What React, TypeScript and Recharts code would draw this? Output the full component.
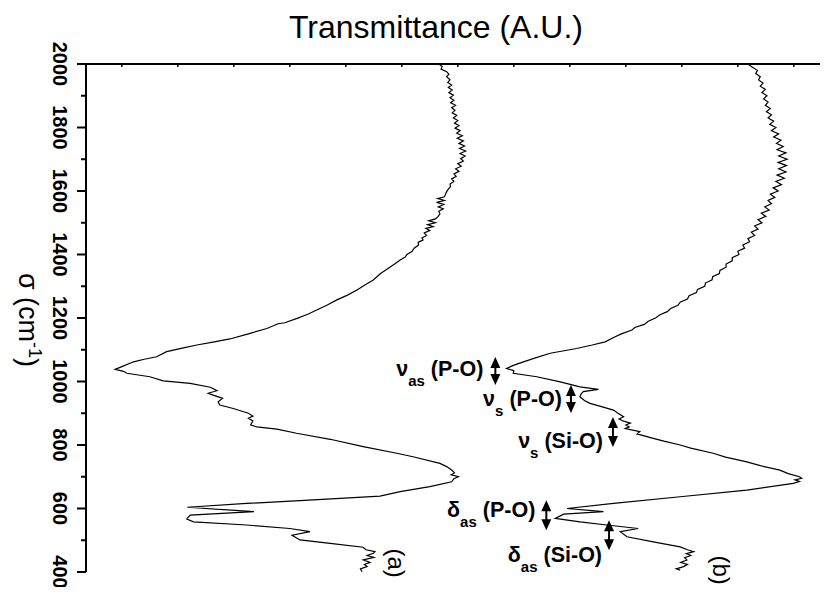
import { LineChart, Line, XAxis, YAxis, ReferenceDot, Label } from 'recharts'

const FONT = "'Liberation Sans', Arial, sans-serif"

// wavenumber ticks (cm-1); only multiples of 200 get a label
const SIGMA_TICKS = [400, 500, 600, 700, 800, 900, 1000, 1100, 1200, 1300, 1400, 1500, 1600, 1700, 1800, 1900, 2000]
const T_TICKS = [10, 20, 30, 40, 50, 60, 70, 80, 90, 100, 110, 120, 130]
const T_DOMAIN: [number, number] = [3.6, 136.1]

// [sigma (cm-1), transmittance (A.U.)]
const CURVE_A: [number, number][] = [
  [2000, 66.6], [1992, 67.2], [1984, 67.0], [1976, 68.0], [1968, 68.4], [1960, 68.0], [1950, 68.6], [1942, 68.2],
  [1934, 68.9], [1926, 68.3], [1918, 69.0], [1910, 68.4], [1902, 69.2], [1894, 68.6], [1886, 69.3], [1878, 68.7],
  [1870, 69.6], [1862, 68.9], [1854, 69.5], [1846, 69.0], [1838, 69.8], [1830, 69.2], [1822, 70.0], [1814, 69.4],
  [1806, 70.2], [1798, 69.5], [1790, 70.4], [1782, 69.8], [1774, 70.8], [1766, 69.9], [1758, 71.0], [1750, 70.2],
  [1742, 71.2], [1734, 70.3], [1726, 71.4], [1718, 70.4], [1710, 71.3], [1702, 70.5], [1694, 71.0], [1686, 70.0],
  [1678, 70.6], [1670, 69.6], [1662, 70.2], [1654, 69.3], [1646, 69.7], [1638, 68.9], [1630, 69.3], [1622, 68.6],
  [1614, 68.7], [1606, 68.3], [1598, 68.0], [1590, 67.8], [1582, 67.6], [1576, 66.4], [1570, 67.6], [1564, 66.2],
  [1558, 67.5], [1550, 66.5], [1544, 67.4], [1536, 66.6], [1528, 66.8], [1520, 66.5], [1512, 66.0], [1506, 64.8],
  [1500, 66.0], [1494, 64.6], [1488, 65.6], [1482, 64.3], [1476, 65.0], [1468, 64.0], [1460, 64.4], [1452, 63.6],
  [1446, 63.8], [1438, 62.9], [1430, 63.0], [1420, 62.2], [1409, 61.8], [1400, 60.9], [1392, 60.6], [1383, 59.7],
  [1370, 58.7], [1357, 57.6], [1340, 56.2], [1320, 54.9], [1304, 53.4], [1288, 52.0], [1272, 50.3], [1257, 48.4],
  [1240, 46.6], [1225, 44.8], [1212, 43.2], [1199, 41.3], [1185, 39.1], [1182, 37.9], [1167, 35.9], [1150, 32.6],
  [1134, 29.3], [1125, 26.5], [1115, 23.4], [1105, 20.8], [1094, 18.0], [1078, 16.2], [1070, 14.0], [1062, 12.1],
  [1047, 10.0], [1038, 8.8], [1032, 10.3], [1026, 10.9], [1015, 15.0], [1002, 17.4], [994, 22.2], [982, 25.8],
  [971, 27.0], [963, 25.4], [957, 26.3], [947, 28.0], [936, 27.2], [926, 27.5], [915, 29.9], [900, 32.6],
  [891, 33.4], [884, 32.6], [876, 33.4], [863, 33.0], [857, 34.1], [850, 37.7], [837, 41.2], [818, 47.2],
  [795, 53.1], [774, 59.1], [763, 62.0], [742, 66.8], [732, 68.0], [721, 68.9], [712, 69.4], [706, 68.8],
  [700, 70.1], [694, 69.3], [684, 68.9], [669, 65.0], [653, 59.7], [639, 56.1], [627, 44.2], [616, 32.3],
  [604, 21.7], [590, 33.6], [579, 22.2], [567, 21.6], [558, 22.8], [548, 32.3], [537, 40.0], [527, 43.6],
  [516, 40.4], [501, 41.8], [490, 47.2], [478, 53.1], [470, 53.6], [464, 55.2], [459, 54.9], [452, 53.8],
  [446, 55.0], [438, 53.1], [430, 54.3], [424, 53.3], [417, 53.8], [410, 52.6], [401, 52.9],
]

const CURVE_B: [number, number][] = [
  [2000, 121.8], [1990, 122.6], [1980, 123.5], [1970, 123.2], [1960, 124.0], [1950, 123.7], [1940, 124.5], [1930, 124.0],
  [1920, 124.9], [1910, 124.3], [1900, 125.2], [1890, 124.6], [1880, 125.4], [1870, 124.9], [1860, 125.8], [1850, 125.1],
  [1840, 126.0], [1830, 125.4], [1820, 126.4], [1810, 125.7], [1800, 126.8], [1790, 126.0], [1780, 127.3], [1770, 126.4],
  [1760, 127.7], [1750, 126.9], [1740, 128.1], [1730, 127.0], [1720, 128.6], [1710, 127.3], [1700, 128.8], [1690, 127.2],
  [1680, 128.7], [1670, 127.3], [1660, 128.6], [1650, 127.0], [1640, 128.3], [1630, 126.8], [1620, 127.8], [1610, 126.3],
  [1600, 127.2], [1590, 125.8], [1580, 126.6], [1570, 125.4], [1560, 126.0], [1550, 124.8], [1540, 125.6], [1530, 124.2],
  [1520, 125.0], [1510, 123.6], [1500, 124.3], [1490, 123.0], [1480, 123.6], [1470, 122.4], [1460, 123.0], [1450, 121.8],
  [1440, 122.1], [1430, 120.9], [1420, 121.2], [1410, 120.0], [1400, 120.2], [1390, 119.0], [1380, 119.0], [1370, 117.9],
  [1360, 117.9], [1350, 116.8], [1340, 116.7], [1330, 115.5], [1320, 115.4], [1310, 114.2], [1300, 114.1], [1290, 112.8],
  [1280, 112.6], [1270, 111.3], [1260, 111.0], [1250, 109.7], [1240, 109.3], [1230, 108.0], [1220, 107.4], [1210, 106.1],
  [1200, 105.3], [1190, 104.0], [1180, 103.3], [1170, 101.6], [1162, 101.1], [1150, 99.2], [1140, 98.0], [1125, 96.3],
  [1115, 94.0], [1104, 91.2], [1089, 86.5], [1075, 84.0], [1062, 81.7], [1050, 79.8], [1041, 78.7], [1034, 80.0],
  [1026, 79.9], [1015, 84.1], [999, 88.3], [983, 91.8], [975, 95.1], [968, 92.4], [960, 92.0], [952, 91.8],
  [940, 92.6], [931, 93.6], [920, 95.8], [910, 97.8], [900, 98.6], [889, 99.6], [882, 98.8], [875, 99.6],
  [869, 100.8], [863, 100.0], [857, 100.6], [852, 99.9], [842, 102.5], [835, 102.0], [821, 104.9], [812, 106.8],
  [800, 109.7], [790, 111.6], [774, 115.6], [762, 117.8], [747, 121.6], [735, 124.0], [721, 127.5], [710, 129.0],
  [700, 131.0], [695, 131.4], [690, 130.2], [685, 131.0], [679, 129.9], [658, 121.6], [637, 109.7], [616, 97.8],
  [600, 89.5], [590, 96.0], [582, 88.9], [569, 87.4], [558, 91.8], [548, 96.6], [537, 102.2], [527, 99.0],
  [511, 100.2], [495, 104.9], [479, 109.7], [470, 111.0], [464, 112.1], [458, 110.8], [452, 111.6], [445, 110.5],
  [438, 110.9], [430, 109.8], [424, 111.0], [417, 110.3], [410, 109.0], [406, 109.7],
]

// band assignments: arrow centre at (t, sigma)
const BANDS = [
  { sym: 'ν', sub: 'as', group: '(P-O)', t: 76.7, sigma: 1033, half: 14, dx: -12, dy: 5 },
  { sym: 'ν', sub: 's', group: '(P-O)', t: 90.2, sigma: 945, half: 14, dx: -9, dy: 7 },
  { sym: 'ν', sub: 's', group: '(Si-O)', t: 97.7, sigma: 841, half: 15, dx: -10, dy: 16 },
  { sym: 'δ', sub: 'as', group: '(P-O)', t: 85.8, sigma: 579, half: 15, dx: -11, dy: 2 },
  { sym: 'δ', sub: 'as', group: '(Si-O)', t: 97.0, sigma: 516, half: 15, dx: -7, dy: 27 },
]

const SAMPLE_LABELS = [
  { text: '(a)', t: 57.6, sigma: 428 },
  { text: '(b)', t: 115.6, sigma: 406 },
]

const toRows = (pts: [number, number][]) => pts.map(([sigma, t]) => ({ sigma, t }))

function SigmaTick(props: any) {
  const { x, y, payload } = props
  const v = payload.value as number
  const major = v % 200 === 0
  const lx = x - 33
  return (
    <g>
      <line x1={x - (major ? 9 : 5)} x2={x} y1={y} y2={y} stroke="#000" strokeWidth={2} />
      {major && (
        <text x={lx} y={y} transform={`rotate(90, ${lx}, ${y})`} textAnchor="middle"
          fontSize={20} fontWeight="bold" fontFamily={FONT} fill="#000">{v}</text>
      )}
    </g>
  )
}

function TopTick(props: any) {
  const { x, y } = props
  return <line x1={x} x2={x} y1={y} y2={y + 3} stroke="#000" strokeWidth={1.5} />
}

function BandMark(props: any) {
  const { cx, cy, band } = props
  const h = band.half
  return (
    <g>
      <line x1={cx} x2={cx} y1={cy - h + 8} y2={cy + h - 8} stroke="#000" strokeWidth={2} />
      <path d={`M${cx},${cy - h} L${cx - 5},${cy - h + 11} L${cx + 5},${cy - h + 11} Z`} fill="#000" />
      <path d={`M${cx},${cy + h} L${cx - 5},${cy + h - 11} L${cx + 5},${cy + h - 11} Z`} fill="#000" />
      <text x={cx + band.dx} y={cy + band.dy} textAnchor="end" fontSize={21.5} fontWeight="bold" fontFamily={FONT} fill="#000">
        <tspan>{band.sym}</tspan>
        <tspan fontSize={15} dy={10}>{band.sub}</tspan>
        <tspan dy={-10}>{' ' + band.group}</tspan>
      </text>
    </g>
  )
}

function SampleLabel(props: any) {
  const { cx, cy, text } = props
  return (
    <text x={cx} y={cy} transform={`rotate(90, ${cx}, ${cy})`} textAnchor="middle"
      fontSize={24} fontFamily={FONT} fill="#000">{text}</text>
  )
}

export default function App() {
  const dataA = toRows(CURVE_A)
  const dataB = toRows(CURVE_B)
  return (
    <div style={{ margin: -8, width: 828, height: 595, overflow: 'hidden', background: '#fff' }}>
      <LineChart width={828} height={595} margin={{ top: 0, right: 0, bottom: 23, left: 0 }}>
        <XAxis type="number" dataKey="t" orientation="top" domain={T_DOMAIN} ticks={T_TICKS} interval={0}
          allowDataOverflow height={64} tickSize={0} tickMargin={0} tickLine={false} tick={<TopTick />}
          axisLine={{ stroke: '#000', strokeWidth: 2 }}>
          <Label content={(p: any) => {
            const vb = p.viewBox
            return <text x={vb.x + 350} y={vb.y + 38} textAnchor="middle" fontSize={32} fontFamily={FONT} fill="#000">Transmittance (A.U.)</text>
          }} />
        </XAxis>
        <YAxis type="number" dataKey="sigma" domain={[400, 2000]} ticks={SIGMA_TICKS} interval={0}
          allowDataOverflow width={86} tickSize={0} tickMargin={0} tickLine={false} tick={<SigmaTick />}
          axisLine={{ stroke: '#000', strokeWidth: 2 }}>
          <Label content={(p: any) => {
            const vb = p.viewBox
            const cx = vb.x + 19
            const cy = vb.y + vb.height / 2 + 2
            return (
              <text x={cx} y={cy} transform={`rotate(90, ${cx}, ${cy})`} textAnchor="middle" fontSize={27} fontFamily={FONT} fill="#000">
                σ (cm<tspan fontSize={18} dy={-10}>-1</tspan><tspan dy={10}>)</tspan>
              </text>
            )
          }} />
        </YAxis>
        <Line data={dataA} dataKey="sigma" type="linear" stroke="#000" strokeWidth={1.2} dot={false} isAnimationActive={false} />
        <Line data={dataB} dataKey="sigma" type="linear" stroke="#000" strokeWidth={1.2} dot={false} isAnimationActive={false} />
        {BANDS.map((b, i) => (
          <ReferenceDot key={i} x={b.t} y={b.sigma} r={0} shape={(p: any) => <BandMark {...p} band={b} />} />
        ))}
        {SAMPLE_LABELS.map((s) => (
          <ReferenceDot key={s.text} x={s.t} y={s.sigma} r={0} shape={(p: any) => <SampleLabel {...p} text={s.text} />} />
        ))}
      </LineChart>
    </div>
  )
}
